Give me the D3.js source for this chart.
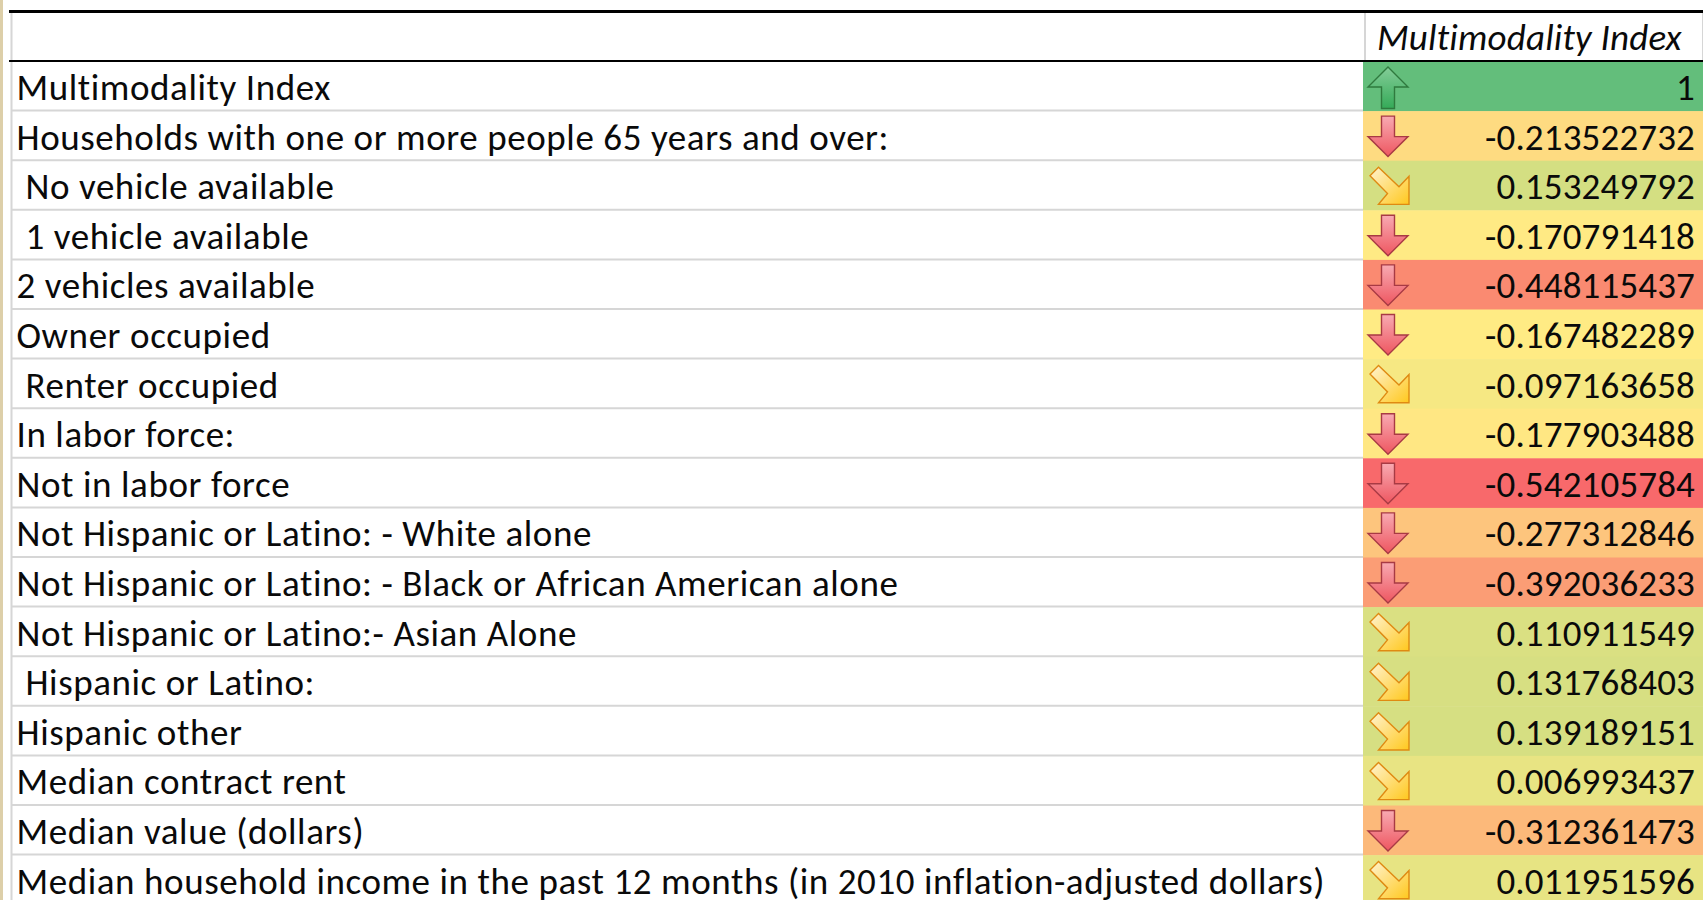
<!DOCTYPE html>
<html>
<head>
<meta charset="utf-8">
<script src="https://cdn.jsdelivr.net/npm/d3@7"></script>
<style>
  html, body { margin: 0; padding: 0; background: #fff; overflow: hidden; }
  svg { display: block; }
  text { font-family: Carlito, Calibri, Lato, sans-serif; fill: #0a0a0a; white-space: pre; }
</style>
</head>
<body>
<svg id="sheet" width="1703" height="900"></svg>
<script>
// Correlation of neighbourhood variables with the multimodality index
const columnTitle = "Multimodality Index";
const rowLabels = [
  "Multimodality Index",
  "Households with one or more people 65 years and over:",
  " No vehicle available",
  " 1 vehicle available",
  "2 vehicles available",
  "Owner occupied",
  " Renter occupied",
  "In labor force:",
  "Not in labor force",
  "Not Hispanic or Latino: - White alone",
  "Not Hispanic or Latino: - Black or African American alone",
  "Not Hispanic or Latino:- Asian Alone",
  " Hispanic or Latino:",
  "Hispanic other",
  "Median contract rent",
  "Median value (dollars)",
  "Median household income in the past 12 months (in 2010 inflation-adjusted dollars)"
];
const valueLabels = [
  "1", "-0.213522732", "0.153249792", "-0.170791418", "-0.448115437", "-0.167482289",
  "-0.097163658", "-0.177903488", "-0.542105784", "-0.277312846", "-0.392036233",
  "0.110911549", "0.131768403", "0.139189151", "0.006993437", "-0.312361473", "0.011951596"
];
const values = valueLabels.map(Number);

// Icon-set cut points: at or above the first is "up", at or above the second is "side"
const iconCuts = [0.5, -0.13];

const width = 1703;
const rowHeight = 49.6;
const headTop = 12, headBottom = 61.5;
const tableLeft = 11, cellLeft = 1363, cellRight = 1703;
const labelFont = 37;

const svg = d3.select("#sheet");

const y = d3.scaleBand()
  .domain(d3.range(rowLabels.length))
  .range([headBottom, headBottom + rowHeight * rowLabels.length]);

// Three-colour conditional format: lowest, median, highest
const fill = d3.scaleLinear()
  .domain([d3.min(values), d3.median(values), d3.max(values)])
  .range(["#F8696B", "#FFEB84", "#63BE7B"]);

const defs = svg.append("defs");
function gradient(id, x2, y2, stops) {
  const g = defs.append("linearGradient").attr("id", id)
    .attr("x1", 0).attr("y1", 0).attr("x2", x2).attr("y2", y2);
  stops.forEach((c, i) => g.append("stop").attr("offset", i / (stops.length - 1)).attr("stop-color", c));
}
gradient("gradUp", 0, 1, ["#84cd98", "#35aa58"]);
gradient("gradDown", 0, 1, ["#f8aab2", "#ee5660"]);
gradient("gradSide", 1, 1, ["#fff3d0", "#ffc81e"]);

// Arrow outlines, relative to the icon centre column and the top of the row
const arrows = {
  up: { d: "M0,5.5L20,25.5H6.5V47H-6.5V25.5H-20Z", fill: "url(#gradUp)", stroke: "#2f7a3e" },
  down: { d: "M-6.5,5H6.5V25.5H20L0,45.5L-20,25.5H-6.5Z", fill: "url(#gradDown)", stroke: "#a83a44" },
  side: { d: "M-9.5,6.5L-18,15L-0.5,32.8L-9.5,43.7H21V15.5L11,26Z", fill: "url(#gradSide)", stroke: "#df8a12" }
};
const iconFor = v => v >= iconCuts[0] ? arrows.up : v >= iconCuts[1] ? arrows.side : arrows.down;

// Narrow strip of the window frame beside the sheet
svg.append("rect").attr("x", 0).attr("y", 0).attr("width", 3).attr("height", 900).attr("fill", "#ddcfa9");

// Coloured value cells
svg.append("g").selectAll("rect").data(values).join("rect")
  .attr("x", cellLeft).attr("width", cellRight - cellLeft)
  .attr("y", (d, i) => y(i)).attr("height", y.bandwidth() + 0.5)
  .attr("fill", d => fill(d));

// Row rules across the label column
svg.append("g").selectAll("line").data(d3.range(1, rowLabels.length)).join("line")
  .attr("x1", tableLeft).attr("x2", cellLeft)
  .attr("y1", i => y(i) - 0.5).attr("y2", i => y(i) - 0.5)
  .attr("stroke", "#d6d6d6").attr("stroke-width", 2);

// Cell borders
const grey = "#d6d6d6";
svg.append("line").attr("x1", 11.5).attr("x2", 11.5).attr("y1", headTop).attr("y2", 900)
  .attr("stroke", grey).attr("stroke-width", 2);
svg.append("line").attr("x1", 1365).attr("x2", 1365).attr("y1", headTop).attr("y2", headBottom)
  .attr("stroke", grey).attr("stroke-width", 2);
svg.append("line").attr("x1", 1702.5).attr("x2", 1702.5).attr("y1", headTop).attr("y2", headBottom)
  .attr("stroke", grey).attr("stroke-width", 1);

// Heavy rules above and below the header
svg.append("line").attr("x1", 9).attr("x2", width).attr("y1", 11.5).attr("y2", 11.5)
  .attr("stroke", "#000").attr("stroke-width", 3);
svg.append("line").attr("x1", 9).attr("x2", width).attr("y1", 61).attr("y2", 61)
  .attr("stroke", "#000").attr("stroke-width", 2);

// Icons
svg.append("g").selectAll("path").data(values).join("path")
  .attr("transform", (d, i) => `translate(1388,${y(i)})`)
  .attr("d", d => iconFor(d).d)
  .attr("fill", d => iconFor(d).fill)
  .attr("stroke", d => iconFor(d).stroke)
  .attr("stroke-width", 1.4)
  .attr("stroke-linejoin", "miter");

// Header, row labels and values
svg.append("text").attr("x", 1377).attr("y", 50)
  .attr("font-size", labelFont).attr("font-style", "italic")
  .attr("letter-spacing", 0.2).text(columnTitle);

svg.append("g").selectAll("text").data(rowLabels).join("text")
  .attr("x", 16.5).attr("y", (d, i) => y(i) + 38.5)
  .attr("font-size", labelFont).attr("letter-spacing", 0.58).text(d => d);

svg.append("g").selectAll("text").data(valueLabels).join("text")
  .attr("x", 1695).attr("y", (d, i) => y(i) + 38.5)
  .attr("text-anchor", "end").attr("letter-spacing", 0.15)
  .attr("font-size", labelFont).text(d => d);
</script>
</body>
</html>
